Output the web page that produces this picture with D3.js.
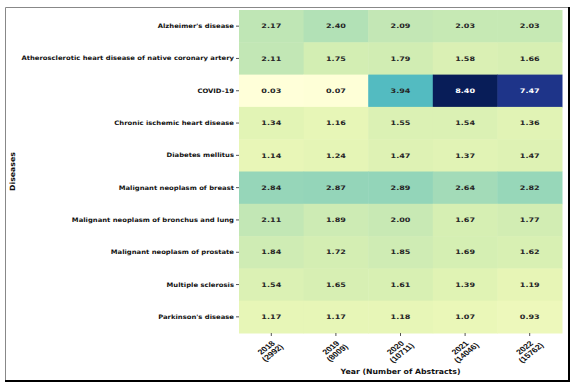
<!DOCTYPE html>
<html>
<head>
<meta charset="utf-8">
<script src="https://cdn.jsdelivr.net/npm/d3@7"></script>
<style>
  body { margin: 0; background: #fff; }
  svg { font-family: "DejaVu Sans", sans-serif; font-weight: bold; }
</style>
</head>
<body>
<div id="chart"></div>
<script>
const diseases = [
  "Alzheimer's disease",
  "Atherosclerotic heart disease of native coronary artery",
  "COVID-19",
  "Chronic ischemic heart disease",
  "Diabetes mellitus",
  "Malignant neoplasm of breast",
  "Malignant neoplasm of bronchus and lung",
  "Malignant neoplasm of prostate",
  "Multiple sclerosis",
  "Parkinson's disease"
];
const years = ["2018", "2019", "2020", "2021", "2022"];
const abstracts = ["2992", "8009", "10711", "14046", "15762"];
const values = [
  [2.17, 2.40, 2.09, 2.03, 2.03],
  [2.11, 1.75, 1.79, 1.58, 1.66],
  [0.03, 0.07, 3.94, 8.40, 7.47],
  [1.34, 1.16, 1.55, 1.54, 1.36],
  [1.14, 1.24, 1.47, 1.37, 1.47],
  [2.84, 2.87, 2.89, 2.64, 2.82],
  [2.11, 1.89, 2.00, 1.67, 1.77],
  [1.84, 1.72, 1.85, 1.69, 1.62],
  [1.54, 1.65, 1.61, 1.39, 1.19],
  [1.17, 1.17, 1.18, 1.07, 0.93]
];

const W = 575, H = 389;
const margin = { top: 10, right: 13, bottom: 56, left: 239 };
const width = W - margin.left - margin.right;
const height = H - margin.top - margin.bottom;

const svg = d3.select('#chart').append('svg')
  .attr('width', W).attr('height', H);

// screenshot frame
svg.append('path').attr('d', 'M5.5,382 V7.5 H570')
  .attr('fill', 'none').attr('stroke', '#888').attr('stroke-width', 1);
svg.append('path').attr('d', 'M5,381 H569 V7')
  .attr('fill', 'none').attr('stroke', '#000').attr('stroke-width', 2);

const g = svg.append('g').attr('transform', `translate(${margin.left},${margin.top})`);

const x = d3.scaleBand().domain(years).range([0, width]);
const y = d3.scaleBand().domain(diseases).range([0, height]);

const flat = values.flat();
const color = d3.scaleSequential(d3.interpolateYlGnBu)
  .domain([d3.min(flat), d3.max(flat)]);

const cells = [];
values.forEach((row, i) => row.forEach((v, j) => cells.push({ d: diseases[i], yr: years[j], v })));

g.selectAll('rect').data(cells).join('rect')
  .attr('x', c => x(c.yr))
  .attr('y', c => y(c.d))
  .attr('width', x.bandwidth() + 0.5)
  .attr('height', y.bandwidth() + 0.5)
  .attr('fill', c => color(c.v));

// the reference text is a bit wide for its height, so stretch it sideways
g.selectAll('text.annot').data(cells).join('text')
  .attr('class', 'annot')
  .attr('transform', c => `translate(${x(c.yr) + x.bandwidth() / 2},${y(c.d) + y.bandwidth() / 2}) scale(1.3,1)`)
  .attr('text-anchor', 'middle')
  .attr('dy', '0.35em')
  .attr('font-size', 6.2)
  .attr('fill', c => (d3.hsl(color(c.v)).l < 0.4 ? '#fff' : '#262626'))
  .text(c => c.v.toFixed(2));

// y axis
const yAxis = g.append('g').call(d3.axisLeft(y).tickSize(3).tickPadding(2));
yAxis.select('.domain').remove();
yAxis.selectAll('line').attr('stroke', '#555');
yAxis.selectAll('text')
  .attr('x', 0)
  .attr('transform', 'translate(-5,0) scale(1.12,1)')
  .attr('font-size', 6.1).attr('fill', '#111')
  .style('font-family', '"DejaVu Sans", sans-serif').style('font-weight', 'bold');

// x axis
const xAxis = g.append('g').attr('transform', `translate(0,${height})`)
  .call(d3.axisBottom(x).tickSize(3).tickFormat(''));
xAxis.select('.domain').remove();
xAxis.selectAll('line').attr('stroke', '#555');
xAxis.selectAll('.tick').each(function(d, i) {
  const t = d3.select(this).append('text')
    .attr('transform', 'translate(-1,18) scale(1.25,1) rotate(-45)')
    .attr('text-anchor', 'middle')
    .attr('font-size', 7.2)
    .attr('fill', '#111');
  t.append('tspan').attr('x', 0).attr('dy', '-0.3em').text(d);
  t.append('tspan').attr('x', 0).attr('dy', '1.0em').text(`(${abstracts[i]})`);
});

g.append('text')
  .attr('transform', `translate(${width / 2},${height + 41}) scale(1.08,1)`)
  .attr('text-anchor', 'middle').attr('font-size', 7.2).attr('fill', '#111')
  .text('Year (Number of Abstracts)');

svg.append('text')
  .attr('transform', `translate(15,${margin.top + height / 2}) rotate(-90) scale(1.08,1)`)
  .attr('text-anchor', 'middle').attr('font-size', 7.2).attr('fill', '#111')
  .text('Diseases');
</script>
</body>
</html>
